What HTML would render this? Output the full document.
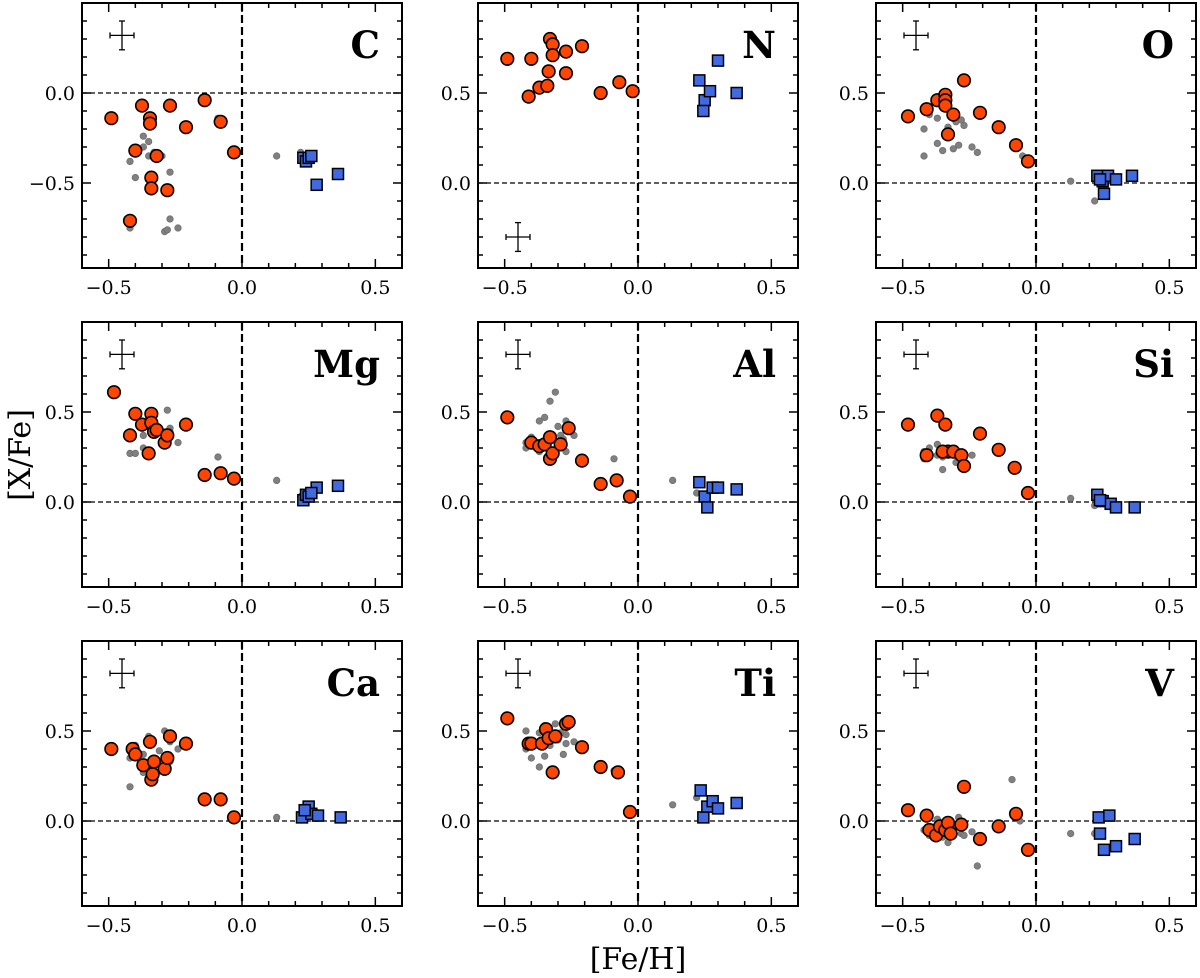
<!DOCTYPE html>
<html><head><meta charset="utf-8">
<style>
html,body{margin:0;padding:0;background:#fff;}
svg{display:block;font-family:"DejaVu Serif","Liberation Serif",serif;}
</style></head>
<body>
<svg id="fig" width="1200" height="978" viewBox="0 0 1200 978" xmlns="http://www.w3.org/2000/svg">
<text x="30" y="455" font-size="30" text-anchor="middle" transform="rotate(-90 30 455)">[X/Fe]</text>
<text x="638" y="969" font-size="30" text-anchor="middle">[Fe/H]</text>
</svg>
<script>
const elements = ["C","N","O","Mg","Al","Si","Ca","Ti","V"];
const xTicks = [-0.5, 0.0, 0.5];
const xTickLabels = ["\u22120.5","0.0","0.5"];
const yTicksC = [-0.5, 0.0];
const yTickLabelsC = ["\u22120.5","0.0"];
const yTicksN = [0.0, 0.5];
const yTickLabelsN = ["0.0","0.5"];
const yTicksRow23 = [0.0, 0.5];
const yTickLabelsRow23 = ["0.0","0.5"];

const redX = {
 C:[-0.49,-0.42,-0.40,-0.375,-0.345,-0.345,-0.34,-0.34,-0.32,-0.28,-0.27,-0.21,-0.14,-0.08,-0.03],
 N:[-0.49,-0.41,-0.40,-0.37,-0.34,-0.335,-0.33,-0.32,-0.32,-0.27,-0.27,-0.21,-0.14,-0.07,-0.02],
 O:[-0.48,-0.41,-0.37,-0.34,-0.34,-0.34,-0.33,-0.31,-0.27,-0.21,-0.14,-0.075,-0.03],
 Mg:[-0.48,-0.42,-0.40,-0.375,-0.35,-0.34,-0.34,-0.33,-0.32,-0.29,-0.28,-0.21,-0.14,-0.08,-0.03],
 Al:[-0.49,-0.40,-0.37,-0.35,-0.33,-0.32,-0.33,-0.29,-0.26,-0.21,-0.14,-0.08,-0.03],
 Si:[-0.48,-0.41,-0.37,-0.34,-0.33,-0.35,-0.31,-0.28,-0.27,-0.21,-0.14,-0.08,-0.03],
 Ca:[-0.49,-0.41,-0.40,-0.37,-0.345,-0.34,-0.335,-0.33,-0.29,-0.28,-0.27,-0.21,-0.14,-0.08,-0.03],
 Ti:[-0.49,-0.41,-0.40,-0.36,-0.345,-0.335,-0.32,-0.31,-0.27,-0.26,-0.21,-0.14,-0.075,-0.03],
 V:[-0.48,-0.41,-0.40,-0.375,-0.36,-0.34,-0.33,-0.32,-0.28,-0.27,-0.21,-0.14,-0.075,-0.03]
};
const redY = {
 C:[-0.14,-0.71,-0.32,-0.07,-0.14,-0.17,-0.47,-0.53,-0.35,-0.54,-0.07,-0.19,-0.04,-0.16,-0.33],
 N:[0.69,0.48,0.69,0.53,0.54,0.62,0.80,0.77,0.71,0.61,0.73,0.76,0.50,0.56,0.51],
 O:[0.37,0.41,0.46,0.49,0.46,0.43,0.27,0.38,0.57,0.39,0.31,0.21,0.12],
 Mg:[0.61,0.37,0.49,0.43,0.27,0.49,0.44,0.39,0.40,0.33,0.37,0.43,0.15,0.16,0.13],
 Al:[0.47,0.33,0.31,0.32,0.24,0.27,0.36,0.32,0.41,0.23,0.10,0.12,0.03],
 Si:[0.43,0.26,0.48,0.43,0.28,0.28,0.28,0.26,0.20,0.38,0.29,0.19,0.05],
 Ca:[0.40,0.40,0.37,0.31,0.44,0.23,0.26,0.33,0.29,0.35,0.47,0.43,0.12,0.12,0.02],
 Ti:[0.57,0.43,0.43,0.43,0.51,0.46,0.27,0.47,0.54,0.55,0.41,0.30,0.27,0.05],
 V:[0.06,0.03,-0.05,-0.08,-0.03,-0.05,-0.01,-0.07,-0.02,0.19,-0.10,-0.03,0.04,-0.16]
};
const blueX = {
 C:[0.23,0.24,0.25,0.26,0.28,0.36],
 N:[0.23,0.25,0.27,0.30,0.245,0.37],
 O:[0.23,0.25,0.27,0.30,0.255,0.36,0.24],
 Mg:[0.23,0.24,0.25,0.28,0.26,0.36],
 Al:[0.23,0.25,0.26,0.28,0.30,0.37],
 Si:[0.23,0.25,0.28,0.30,0.37,0.24],
 Ca:[0.225,0.25,0.26,0.285,0.37,0.235],
 Ti:[0.235,0.245,0.26,0.28,0.30,0.37],
 V:[0.235,0.255,0.275,0.30,0.37,0.24]
};
const blueY = {
 C:[-0.36,-0.38,-0.36,-0.35,-0.51,-0.45],
 N:[0.57,0.46,0.51,0.68,0.40,0.50],
 O:[0.04,0.01,0.04,0.02,-0.06,0.04,0.02],
 Mg:[0.01,0.04,0.03,0.08,0.05,0.09],
 Al:[0.11,0.03,-0.03,0.08,0.08,0.07],
 Si:[0.04,0.005,-0.01,-0.03,-0.03,0.01],
 Ca:[0.02,0.08,0.04,0.03,0.02,0.06],
 Ti:[0.17,0.02,0.08,0.11,0.07,0.10],
 V:[0.02,-0.16,0.03,-0.14,-0.10,-0.07]
};
const grayX = {
 C:[-0.42,-0.42,-0.40,-0.37,-0.37,-0.35,-0.35,-0.33,-0.31,-0.30,-0.29,-0.28,-0.27,-0.27,-0.24,-0.09,0.13,0.22],
 N:[],
 O:[-0.42,-0.42,-0.40,-0.37,-0.37,-0.35,-0.35,-0.33,-0.31,-0.30,-0.29,-0.28,-0.27,-0.24,-0.22,-0.05,0.13,0.22],
 Mg:[-0.42,-0.42,-0.40,-0.37,-0.37,-0.35,-0.35,-0.33,-0.31,-0.30,-0.29,-0.28,-0.27,-0.27,-0.24,-0.09,0.13,0.22],
 Al:[-0.42,-0.42,-0.40,-0.37,-0.37,-0.35,-0.35,-0.33,-0.31,-0.30,-0.29,-0.28,-0.27,-0.27,-0.24,-0.09,0.13,0.22],
 Si:[-0.42,-0.42,-0.40,-0.37,-0.37,-0.35,-0.35,-0.33,-0.31,-0.30,-0.29,-0.28,-0.27,-0.27,-0.24,-0.09,0.13,0.22],
 Ca:[-0.42,-0.42,-0.40,-0.37,-0.37,-0.35,-0.35,-0.33,-0.31,-0.30,-0.29,-0.28,-0.27,-0.27,-0.24,-0.09,0.13,0.22],
 Ti:[-0.42,-0.42,-0.40,-0.37,-0.37,-0.35,-0.35,-0.33,-0.31,-0.30,-0.29,-0.28,-0.27,-0.27,-0.24,-0.09,0.13,0.22],
 V:[-0.42,-0.42,-0.40,-0.37,-0.37,-0.35,-0.35,-0.33,-0.31,-0.30,-0.29,-0.28,-0.27,-0.24,-0.22,-0.09,-0.06,0.13,0.22]
};
const grayY = {
 C:[-0.75,-0.38,-0.47,-0.24,-0.30,-0.27,-0.35,-0.33,-0.35,-0.35,-0.77,-0.76,-0.44,-0.70,-0.75,-0.14,-0.35,-0.33],
 N:[],
 O:[0.15,0.30,0.38,0.22,0.36,0.18,0.42,0.31,0.19,0.34,0.21,0.35,0.32,0.20,0.17,0.15,0.01,-0.10],
 Mg:[0.39,0.27,0.27,0.30,0.37,0.47,0.42,0.39,0.39,0.33,0.39,0.51,0.41,0.39,0.33,0.25,0.12,0.03],
 Al:[0.30,0.33,0.36,0.28,0.45,0.47,0.32,0.56,0.61,0.42,0.37,0.35,0.45,0.28,0.37,0.24,0.12,0.05],
 Si:[0.24,0.28,0.30,0.26,0.32,0.18,0.25,0.30,0.27,0.22,0.26,0.24,0.27,0.21,0.26,0.20,0.02,-0.02],
 Ca:[0.19,0.35,0.42,0.37,0.27,0.47,0.28,0.35,0.39,0.29,0.50,0.49,0.33,0.44,0.40,0.13,0.02,0.02],
 Ti:[0.50,0.40,0.35,0.30,0.49,0.53,0.36,0.42,0.54,0.45,0.49,0.37,0.48,0.43,0.44,0.28,0.09,0.13],
 V:[0.03,-0.05,-0.08,-0.02,0.01,-0.04,-0.09,-0.12,-0.06,-0.03,0.02,-0.07,-0.08,-0.06,-0.25,0.23,0.0,-0.07,-0.07]
};
const errX = [0.045];
const errY = [0.08];
const errCenter = {C:[-0.45,0.32], N:[-0.45,-0.30], O:[-0.45,0.82], Mg:[-0.45,0.82], Al:[-0.45,0.82], Si:[-0.45,0.82], Ca:[-0.45,0.82], Ti:[-0.45,0.82], V:[-0.45,0.82]};
const yTopVal = {C:0.5, N:1.0, O:1.0, Mg:1.0, Al:1.0, Si:1.0, Ca:1.0, Ti:1.0, V:1.0};

const NS = "http://www.w3.org/2000/svg";
const svg = document.getElementById('fig');
function mk(tag, attrs, parent){
  const e = document.createElementNS(NS, tag);
  for (const k in attrs) e.setAttribute(k, attrs[k]);
  (parent||svg).appendChild(e);
  return e;
}
const colX = [82, 478, 876], rowY = [3, 322, 641], W = 320, H = 265;
const XMIN = -0.6, XMAX = 0.6;

elements.forEach((el, i) => {
  const c = i % 3, r = Math.floor(i / 3);
  const L = colX[c], T = rowY[r];
  const yTop = yTopVal[el];
  const yBot = yTop - H / 180;
  const sx = v => L + (v - XMIN) / (XMAX - XMIN) * W;
  const sy = v => T + (yTop - v) * 180;
  const g = mk('g', {});
  
  
  const cp = mk('clipPath', {id: 'clip' + i}, g);
  mk('rect', {x: L, y: T, width: W, height: H}, cp);
  const hl = mk('line', {x1: L, x2: L + W, y1: sy(0), y2: sy(0), stroke: '#000', 'stroke-width': 1.3, 'stroke-dasharray': '5,3'}, g);
  
  
  const vl = mk('line', {x1: sx(0), x2: sx(0), y1: T, y2: T + H, stroke: '#000', 'stroke-width': 2.2, 'stroke-dasharray': '8,4'}, g);
  
  
  for (let k = -6; k <= 6; k++) {
    const v = k / 10, major = (k % 5 === 0), len = major ? 9 : 5;
    mk('line', {x1: sx(v), x2: sx(v), y1: T + H, y2: T + H - len, stroke: '#000', 'stroke-width': 1.5}, g);
    mk('line', {x1: sx(v), x2: sx(v), y1: T, y2: T + len, stroke: '#000', 'stroke-width': 1.5}, g);
  }
  for (let k = -20; k <= 20; k++) {
    const v = k / 10;
    if (v > yTop + 1e-9 || v < yBot - 1e-9) continue;
    const major = (k % 5 === 0), len = major ? 9 : 5;
    mk('line', {x1: L, x2: L + len, y1: sy(v), y2: sy(v), stroke: '#000', 'stroke-width': 1.5}, g);
    mk('line', {x1: L + W, x2: L + W - len, y1: sy(v), y2: sy(v), stroke: '#000', 'stroke-width': 1.5}, g);
  }
  xTicks.forEach((v, j) => {
    const t = mk('text', {x: sx(v), y: T + H + 26, 'font-size': 19, 'text-anchor': 'middle'}, g);
    t.textContent = xTickLabels[j];
    
    
  });
  const yt = el === 'C' ? yTicksC : (r === 0 ? yTicksN : yTicksRow23);
  const ytl = el === 'C' ? yTickLabelsC : (r === 0 ? yTickLabelsN : yTickLabelsRow23);
  yt.forEach((v, j) => {
    const t = mk('text', {x: L - 7, y: sy(v) + 7, 'font-size': 19, 'text-anchor': 'end'}, g);
    t.textContent = ytl[j];
    
    
  });
  const dg = mk('g', {'clip-path': 'url(#clip' + i + ')'}, g);
  grayX[el].forEach((x, j) => {
    const p = mk('circle', {cx: sx(x), cy: sy(grayY[el][j]), r: 3.3, fill: '#808080', stroke: '#666', 'stroke-width': 0.6}, dg);
    
    
  });
  redX[el].forEach((x, j) => {
    const p = mk('circle', {cx: sx(x), cy: sy(redY[el][j]), r: 6.3, fill: '#ff4500', stroke: '#000', 'stroke-width': 1.6}, dg);
    
    
  });
  blueX[el].forEach((x, j) => {
    const p = mk('rect', {x: sx(x) - 5.5, y: sy(blueY[el][j]) - 5.5, width: 11, height: 11, fill: '#4169e1', stroke: '#000', 'stroke-width': 1.5}, dg);
    
    
  });
  const ec = errCenter[el];
  const eg = mk('g', {stroke: '#000', 'stroke-width': 1.3}, g);
  
  
  const cx = sx(ec[0]), cy = sy(ec[1]);
  const dx = errX[0] * W / 1.2, dy = errY[0] * 180;
  mk('line', {x1: cx - dx, x2: cx + dx, y1: cy, y2: cy}, eg);
  mk('line', {x1: cx, x2: cx, y1: cy - dy, y2: cy + dy}, eg);
  mk('line', {x1: cx - dx, x2: cx - dx, y1: cy - 3, y2: cy + 3}, eg);
  mk('line', {x1: cx + dx, x2: cx + dx, y1: cy - 3, y2: cy + 3}, eg);
  mk('line', {x1: cx - 3, x2: cx + 3, y1: cy - dy, y2: cy - dy}, eg);
  mk('line', {x1: cx - 3, x2: cx + 3, y1: cy + dy, y2: cy + dy}, eg);
  const lab = mk('text', {x: L + W - 22, y: T + 55, 'font-size': 37, 'font-weight': 'bold', 'text-anchor': 'end'}, g);
  lab.textContent = el;
  
  
  const fr = mk('rect', {x: L, y: T, width: W, height: H, fill: 'none', stroke: '#000', 'stroke-width': 2}, g);
  
  
});
</script>
</body></html>
